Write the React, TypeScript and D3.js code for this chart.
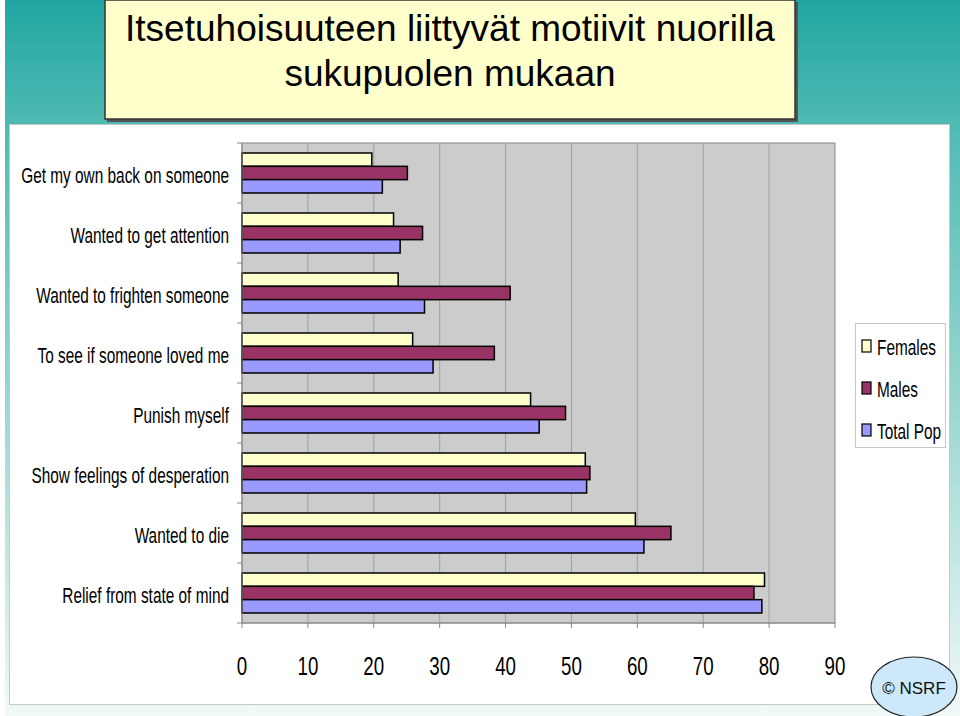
import React from 'react';
import * as d3 from 'd3';

const categories = [
  'Get my own back on someone',
  'Wanted to get attention',
  'Wanted to frighten someone',
  'To see if someone loved me',
  'Punish myself',
  'Show feelings of desperation',
  'Wanted to die',
  'Relief from state of mind',
];
const females = [19.7, 23.0, 23.7, 25.9, 43.8, 52.1, 59.7, 79.3];
const males = [25.1, 27.4, 40.7, 38.3, 49.1, 52.8, 65.1, 77.7];
const totalPop = [21.3, 24.0, 27.7, 29.0, 45.1, 52.3, 61.0, 78.9];
const seriesNames = ['Females', 'Males', 'Total Pop'];
const xTicks = [0, 10, 20, 30, 40, 50, 60, 70, 80, 90];

const colors = ['#ffffcc', '#993366', '#9999ff'];
const sans = '"Liberation Sans", Arial, Helvetica, sans-serif';

// Arial Narrow look: regular sans squeezed horizontally
function Narrow(props: { x: number; y: number; size: number; anchor?: string; k?: number; children: React.ReactNode; fill?: string }) {
  const k = props.k ?? 0.72;
  return (
    <text transform={`translate(${props.x},${props.y}) scale(${k},1)`} textAnchor={props.anchor ?? 'start'}
      fontFamily={sans} fontSize={props.size} fill={props.fill ?? '#000'}>
      {props.children}
    </text>
  );
}

export default function App() {
  const W = 960;
  const H = 716;
  const plot = { left: 242, right: 835, top: 143, bottom: 623 };

  const x = d3.scaleLinear().domain([0, 90]).range([plot.left, plot.right]);
  const y = d3.scaleBand<string>().domain(categories).range([plot.top, plot.bottom]);
  const yInner = d3.scaleBand<string>().domain(seriesNames)
    .range([0, y.bandwidth()]).paddingInner(0).paddingOuter(0.75);
  const values = [females, males, totalPop];

  return (
    <svg width={W} height={H} style={{ position: 'absolute', left: 0, top: 0 }}>
      <defs>
        <linearGradient id="bg" x1="0" y1="0" x2="0" y2="1">
          <stop offset="0" stopColor="#22a6a2" />
          <stop offset="0.2" stopColor="#55bdb6" />
          <stop offset="0.6" stopColor="#a2d9d4" />
          <stop offset="1" stopColor="#f0f9f8" />
        </linearGradient>
      </defs>
      <rect x={0} y={0} width={W} height={H} fill="#ffffff" />
      <rect x={5} y={0} width={W - 5} height={H} fill="url(#bg)" />

      {/* title box */}
      <rect x={107} y={2} width={691} height={120} fill="#555" />
      <rect x={105} y={0} width={690} height={119} fill="#ffffcc" stroke="#333" strokeWidth={1.5} />
      <Narrow x={450} y={41} size={37} k={1.0} anchor="middle">Itsetuhoisuuteen liittyvät motiivit nuorilla</Narrow>
      <Narrow x={450} y={86} size={37} k={1.0} anchor="middle">sukupuolen mukaan</Narrow>

      {/* white panel */}
      <rect x={9.5} y={124.5} width={940} height={580} fill="#ffffff" stroke="#c8c8c8" strokeWidth={1} />

      {/* plot area */}
      <rect x={plot.left} y={plot.top} width={plot.right - plot.left} height={plot.bottom - plot.top}
        fill="#cccccc" stroke="#888" strokeWidth={1} />
      {xTicks.slice(1, -1).map(t => (
        <line key={'g' + t} x1={x(t)} x2={x(t)} y1={plot.top} y2={plot.bottom} stroke="#a0a0a0" strokeWidth={1} />
      ))}

      {/* bars */}
      {categories.map((c, i) => (
        <g key={c} transform={`translate(0,${y(c)})`}>
          {seriesNames.map((s, j) => (
            <rect key={s} x={x(0)} y={yInner(s)} width={x(values[j][i]) - x(0)} height={yInner.bandwidth()}
              fill={colors[j]} stroke="#000" strokeWidth={1.5} />
          ))}
        </g>
      ))}

      {/* axes */}
      <line x1={plot.left} x2={plot.left} y1={plot.top} y2={plot.bottom} stroke="#888" />
      <line x1={plot.left} x2={plot.right} y1={plot.bottom} y2={plot.bottom} stroke="#888" />
      {categories.map((c, i) => (
        <line key={'yt' + i} x1={plot.left - 5} x2={plot.left} y1={y(c)} y2={y(c)} stroke="#888" />
      ))}
      <line x1={plot.left - 5} x2={plot.left} y1={plot.bottom} y2={plot.bottom} stroke="#888" />
      {xTicks.map(t => (
        <line key={'xt' + t} x1={x(t)} x2={x(t)} y1={plot.bottom} y2={plot.bottom + 5} stroke="#888" />
      ))}
      {xTicks.map(t => (
        <Narrow key={'xl' + t} x={x(t)} y={675} size={26} anchor="middle">{t}</Narrow>
      ))}
      {categories.map(c => (
        <Narrow key={'cl' + c} x={229} y={(y(c) ?? 0) + y.bandwidth() / 2 + 10} size={22} k={0.7} anchor="end">{c}</Narrow>
      ))}

      {/* legend */}
      <rect x={855.5} y={323.5} width={90} height={124} fill="#ffffff" stroke="#c8c8c8" />
      {seriesNames.map((s, j) => (
        <g key={'lg' + s}>
          <rect x={862} y={340 + j * 42} width={9} height={12} fill={colors[j]} stroke="#000" strokeWidth={1.2} />
          <Narrow x={877} y={355 + j * 42} size={22} k={0.7}>{s}</Narrow>
        </g>
      ))}

      {/* logo */}
      <ellipse cx={914} cy={687} rx={43} ry={30} fill="#cde8f8" stroke="#222" strokeWidth={1.2} />
      <text x={914} y={694} textAnchor="middle" fontFamily={sans} fontSize={17} fill="#111">
        © NSRF
      </text>
    </svg>
  );
}
